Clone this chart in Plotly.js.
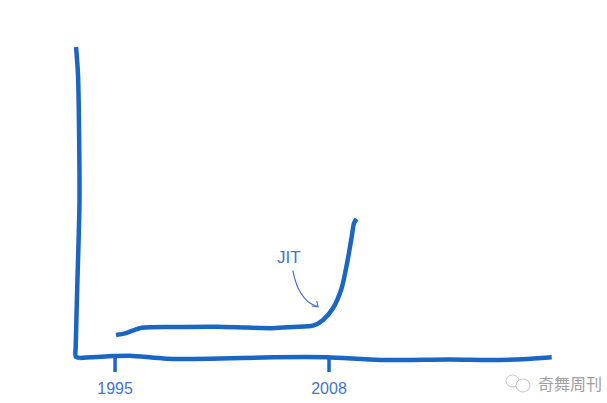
<!DOCTYPE html>
<html><head><meta charset="utf-8">
<script src="https://cdn.plot.ly/plotly-3.0.1.min.js"></script>
<style>html,body{margin:0;padding:0;background:#fff}#c{width:607px;height:403px}</style>
</head><body><div id="c"></div>
<script>
const curveYears=[1995.06,1995.71,1996.62,1998.75,2001.18,2003.0,2004.6,2005.81,2007.03,2007.64,2008.24,2008.77,2009.1,2009.38,2009.52,2009.68];
const curveValues=[22,24.2,29.2,30,30.3,29.4,28.8,30,31.3,37,48.7,69,94,120.3,134,138];
const yAxisX=[1992.63,1992.75,1992.84,1992.71,1992.61,1992.61,1992.87];
const yAxisY=[310,282,157,74,10,0.3,-1];
const xAxisX=[1992.87,1994.88,1995.91,1998.14,2000.77,2004.6,2007.88,2011.1,2015.35,2017.78,2019.79,2021.53];
const xAxisY=[-1,1,1.3,-1.7,-1.7,-0.3,-0.3,-3,-2.5,-3,-2.3,-0.3];
const tickYears=[1995,2008];
const tickLabels=['1995','2008'];
const arrowX=[2005.8,2006.12,2006.73,2007.33];
const arrowY=[86.3,69,55.3,50.3];
const headX=[2007.26,2007.33,2006.95];
const headY=[56,50.3,51];
const blue='#1a66c4', textBlue='#3f74cf', gray='#a0a0a0';
const thick=(x,y,w,smooth)=>({x,y,mode:'lines',hoverinfo:'skip',showlegend:false,
  line:{color:blue,width:w,shape:smooth?'spline':'linear',smoothing:0.7}});
const traces=[
  thick(yAxisX,yAxisY,4.5,true),
  thick(xAxisX,xAxisY,4.5,true),
  thick(curveYears,curveValues,4.5,true),
  {x:arrowX,y:arrowY,mode:'lines',hoverinfo:'skip',showlegend:false,line:{color:textBlue,width:1.2,shape:'spline'}},
  {x:headX,y:headY,mode:'lines',hoverinfo:'skip',showlegend:false,line:{color:textBlue,width:1.2}}
];
tickYears.forEach(t=>traces.push(thick([t,t],[0,-15],3.5,false)));
const H=375, px=x=>x/607, py=y=>(H-y)/H;
const narrow='"Liberation Sans Narrow", "Liberation Sans", sans-serif';
const layout={
  width:607,height:403,margin:{l:0,r:0,t:0,b:28,pad:0},
  paper_bgcolor:'#fff',plot_bgcolor:'#fff',showlegend:false,
  xaxis:{range:[1988.01,2024.89],showgrid:false,zeroline:false,showline:false,ticks:'',
    tickmode:'array',tickvals:tickYears,ticktext:tickLabels,ticklabelstandoff:2,
    tickfont:{family:narrow,size:16,color:textBlue}},
  yaxis:{range:[-18,357],showgrid:false,zeroline:false,showline:false,showticklabels:false,ticks:''},
  annotations:[
    {x:2005.57,y:100,xref:'x',yref:'y',text:'JIT',showarrow:false,font:{family:narrow,size:17,color:textBlue}},
    {x:px(570),y:py(383),xref:'paper',yref:'paper',xanchor:'center',yanchor:'middle',text:'奇舞周刊',showarrow:false,font:{family:'"Noto Sans CJK SC", sans-serif',size:16,color:gray}}
  ],
  shapes:[
    {type:'circle',xref:'paper',yref:'paper',x0:px(506),x1:px(519),y0:py(387),y1:py(375),line:{color:'#c8c8c8',width:1},fillcolor:'#fff'},
    {type:'circle',xref:'paper',yref:'paper',x0:px(516),x1:px(530),y0:py(392),y1:py(379),line:{color:'#c8c8c8',width:1},fillcolor:'#fff'}
  ]
};
Plotly.newPlot('c',traces,layout,{displayModeBar:false,staticPlot:true});
</script></body></html>
